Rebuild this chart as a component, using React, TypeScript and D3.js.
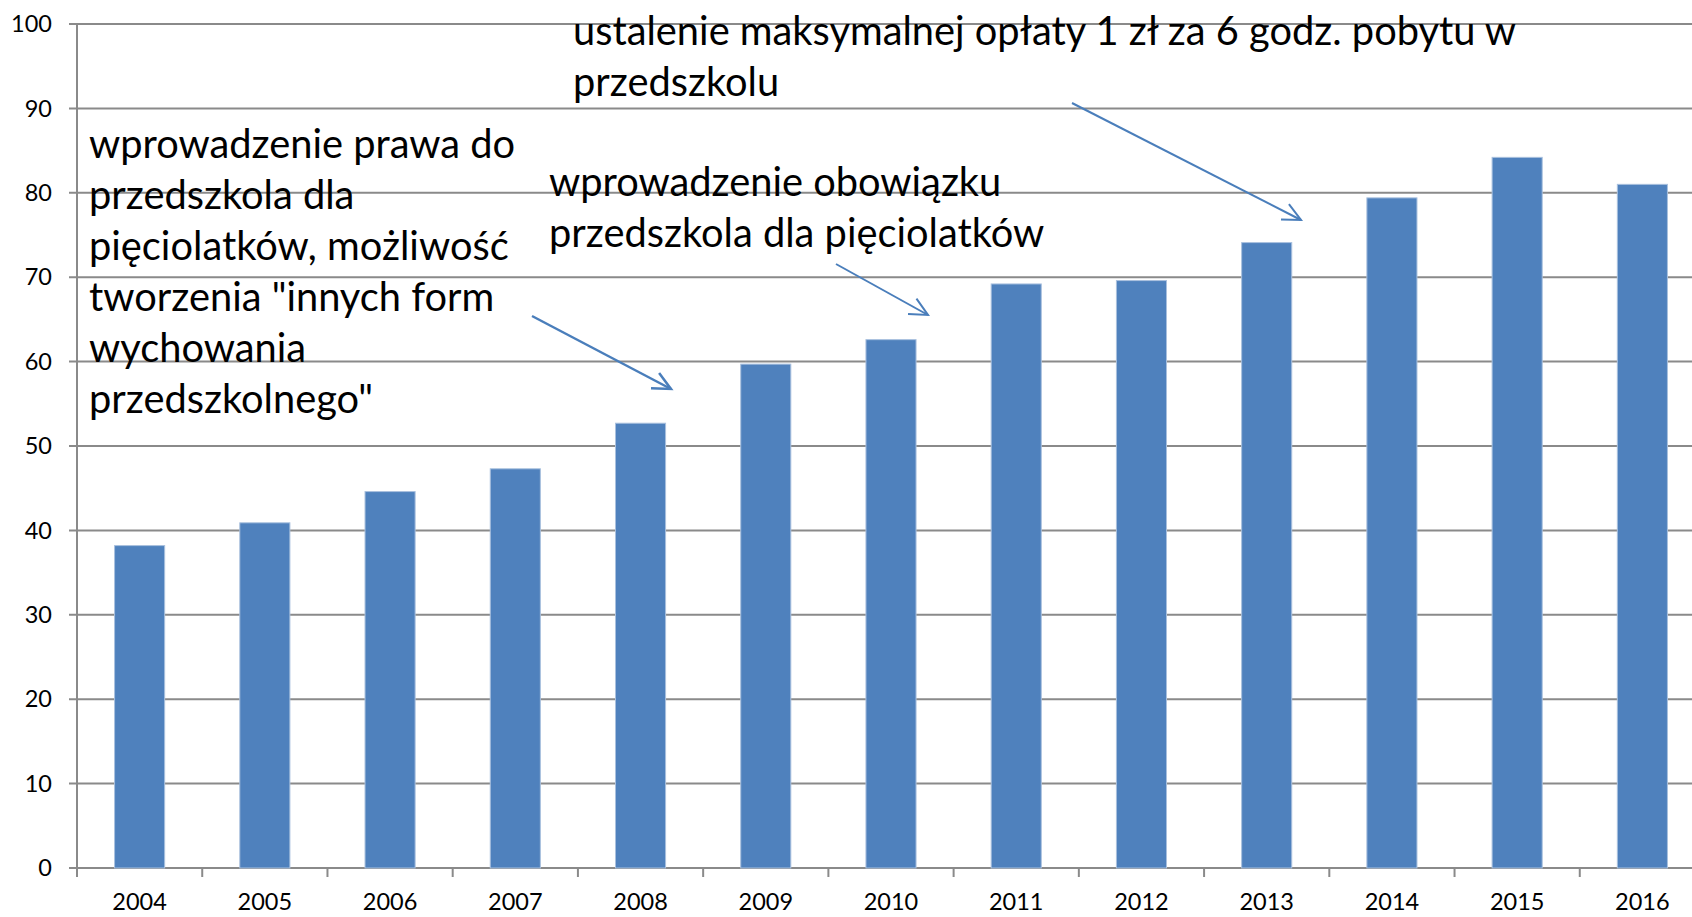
import * as d3 from "d3";
import { useEffect, useRef } from "react";

const years = ["2004", "2005", "2006", "2007", "2008", "2009", "2010", "2011", "2012", "2013", "2014", "2015", "2016"];
const values = [38.2, 40.9, 44.6, 47.3, 52.7, 59.7, 62.6, 69.2, 69.6, 74.1, 79.4, 84.2, 81.0];
const yTicks = [0, 10, 20, 30, 40, 50, 60, 70, 80, 90, 100];

const note1 = [
  "wprowadzenie prawa do",
  "przedszkola dla",
  "pięciolatków, możliwość",
  'tworzenia "innych form',
  "wychowania",
  'przedszkolnego"',
];
const note2 = ["wprowadzenie obowiązku", "przedszkola dla pięciolatków"];
const note3 = ["ustalenie maksymalnej opłaty 1 zł za 6 godz. pobytu w", "przedszkolu"];

const App = () => {
  const ref = useRef<SVGSVGElement>(null);

  useEffect(() => {
    const W = 1692, H = 917;
    const margin = { top: 24, right: -13, bottom: 49, left: 77 },
      width = W - margin.left - margin.right,
      height = H - margin.top - margin.bottom;

    const root = d3.select(ref.current);
    root.selectAll("*").remove();
    const svg = root
      .append("g")
      .attr("transform", `translate(${margin.left},${margin.top})`);

    const x = d3.scaleBand().range([0, width]).domain(years).paddingInner(0.6).paddingOuter(0.3);
    const xb = d3.scaleBand().range([0, width]).domain(years).padding(0);
    const y = d3.scaleLinear().domain([0, 100]).range([height, 0]);

    const font = "Lato, 'Open Sans', sans-serif";

    // gridlines
    svg
      .append("g")
      .selectAll("line")
      .data(yTicks)
      .join("line")
      .attr("x1", -8)
      .attr("x2", width)
      .attr("y1", (d) => y(d))
      .attr("y2", (d) => y(d))
      .attr("stroke", "#8a8a8a")
      .attr("stroke-width", 2);

    // y axis labels
    svg
      .append("g")
      .selectAll("text")
      .data(yTicks)
      .join("text")
      .attr("x", -25)
      .attr("y", (d) => y(d))
      .attr("dy", "0.35em")
      .attr("text-anchor", "end")
      .attr("font-family", font)
      .attr("font-size", 23.5)
      .text((d) => d);

    // y axis line
    svg.append("line").attr("x1", 0).attr("x2", 0).attr("y1", 0).attr("y2", height)
      .attr("stroke", "#8a8a8a").attr("stroke-width", 2);

    // x axis tick marks
    svg
      .append("g")
      .selectAll("line")
      .data(years)
      .join("line")
      .attr("x1", (d) => xb(d)!)
      .attr("x2", (d) => xb(d)!)
      .attr("y1", height)
      .attr("y2", height + 9)
      .attr("stroke", "#8a8a8a")
      .attr("stroke-width", 2);

    // x labels
    svg
      .append("g")
      .selectAll("text")
      .data(years)
      .join("text")
      .attr("x", (d) => xb(d)! + xb.bandwidth() / 2)
      .attr("y", height + 34)
      .attr("dy", "0.35em")
      .attr("text-anchor", "middle")
      .attr("font-family", font)
      .attr("font-size", 23.5)
      .text((d) => d);

    // bars
    svg
      .append("g")
      .selectAll("rect")
      .data(years)
      .join("rect")
      .attr("x", (d) => x(d)!)
      .attr("y", (d, i) => y(values[i]))
      .attr("width", x.bandwidth())
      .attr("height", (d, i) => height - y(values[i]))
      .attr("fill", "#4f81bd")
      .attr("stroke", "#a9c0de")
      .attr("stroke-width", 1);

    // annotations (positions in page coords)
    const notes = root.append("g").attr("font-family", font).attr("font-size", 39.8).attr("fill", "#000");
    const addNote = (lines: string[], x0: number, y0: number) => {
      notes
        .append("g")
        .selectAll("text")
        .data(lines)
        .join("text")
        .attr("x", x0)
        .attr("y", (d, i) => y0 + i * 51)
        .attr("dy", "0.35em")
        .text((d) => d);
    };
    addNote(note1, 89, 144);
    addNote(note2, 549, 182);
    addNote(note3, 573, 31);

    const arrow = (x1: number, y1: number, x2: number, y2: number, sw: number) => {
      const a = Math.atan2(y2 - y1, x2 - x1);
      const L = 20, sp = 0.45;
      const g = root.append("g").attr("stroke", "#4a7ebb").attr("stroke-width", sw).attr("fill", "none");
      g.append("line").attr("x1", x1).attr("y1", y1).attr("x2", x2).attr("y2", y2);
      g.append("path").attr(
        "d",
        `M${x2 - L * Math.cos(a - sp)},${y2 - L * Math.sin(a - sp)}L${x2},${y2}L${x2 - L * Math.cos(a + sp)},${y2 - L * Math.sin(a + sp)}`
      );
    };
    arrow(532, 316, 671, 389, 2.5);
    arrow(836, 264, 928, 315, 2);
    arrow(1072, 103, 1301, 220, 2);
  }, []);

  return (
    <div style={{ position: "absolute", left: 0, top: 0 }}>
      <svg width={1692} height={917} ref={ref} style={{ display: "block", background: "#fff" }} />
    </div>
  );
};

export default App;
